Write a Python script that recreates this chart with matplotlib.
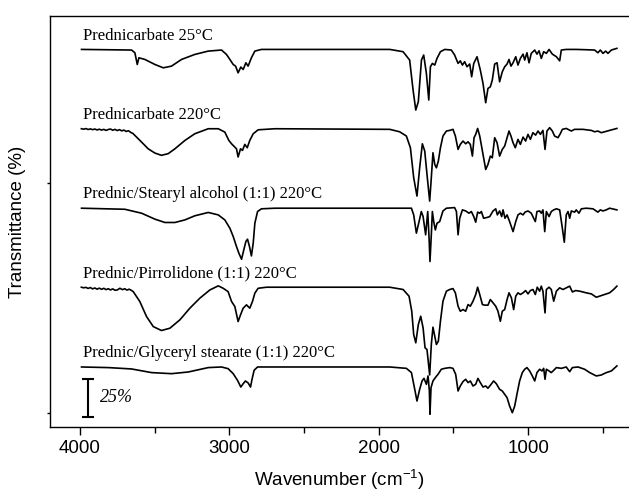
import numpy as np
import matplotlib.pyplot as plt

plt.rcParams['font.family'] = 'Liberation Sans'
plt.rcParams['mathtext.default'] = 'regular'

# Prednicarbate 25°C
wn_pc25 = [3989, 3654, 3632, 3616, 3605, 3565, 3498, 3442, 3387, 3320, 3231, 3141, 3052,
           3019, 2996, 2974, 2958, 2941, 2923, 2907, 2889, 2874, 2852, 2829, 2785,
           1926, 1837, 1793, 1770, 1752, 1735, 1714, 1699, 1681, 1665, 1654, 1641, 1625,
           1610, 1587, 1558, 1514, 1492, 1469, 1454, 1440, 1425, 1409, 1391, 1378, 1364,
           1342, 1320, 1302, 1284, 1269, 1253, 1240, 1224, 1208, 1191, 1173, 1157, 1141,
           1128, 1115, 1101, 1083, 1068, 1052, 1034, 1023, 1008, 994, 979, 956, 941, 927,
           912, 896, 878, 860, 838, 811, 789, 778, 745, 678, 611, 555, 533, 517, 499, 481,
           466, 443, 406]
t_pc25 = [100, 99.6, 97.8, 90.1, 94.5, 93.4, 90.1, 87.9, 89.0, 93.4, 96.7, 98.9, 99.6,
          96.7, 93.4, 90.1, 89.0, 84.6, 88.4, 86.8, 91.2, 89.0, 94.5, 98.9, 100,
          100, 98.5, 93.0, 73.2, 60.1, 65.6, 93.0, 96.3, 84.2, 66.7, 88.6, 90.8, 89.7,
          94.1, 98.5, 100, 99.6, 96.3, 90.8, 92.5, 89.7, 91.9, 88.6, 90.4, 82.0, 90.8,
          95.2, 86.4, 77.6, 64.9, 74.3, 75.4, 79.8, 90.4, 91.2, 78.7, 85.3, 88.6, 90.4,
          93.4, 89.0, 91.2, 95.2, 89.7, 94.1, 96.9, 93.0, 97.8, 91.2, 97.4, 99.6, 96.9, 99.1,
          94.1, 98.5, 97.4, 100, 96.9, 95.2, 92.5, 99.6, 100, 100, 99.8, 99.6, 97.8, 99.6, 97.4,
          98.9, 97.4, 99.6, 100.7]

# Prednicarbate 220°C
wn_pc220 = [3990, 3975, 3960, 3945, 3930, 3915, 3900, 3885, 3870, 3855, 3840, 3825, 3810,
            3795, 3780, 3765, 3750, 3735, 3720, 3705, 3690, 3675, 3660, 3645, 3632, 3587,
            3543, 3498, 3454, 3409, 3364, 3297, 3231, 3141, 3074, 3030, 3003, 2985, 2968,
            2952, 2941, 2925, 2912, 2896, 2880, 2863, 2840, 2807, 2695,
            1926, 1860, 1815, 1788, 1766, 1744, 1726, 1708, 1692, 1677, 1659, 1648, 1637,
            1625, 1614, 1601, 1587, 1570, 1547, 1525, 1503, 1487, 1469, 1454, 1436, 1418,
            1402, 1387, 1373, 1362, 1351, 1338, 1324, 1306, 1284, 1269, 1253, 1240, 1224,
            1208, 1191, 1173, 1157, 1141, 1128, 1115, 1101, 1086, 1068, 1052, 1034, 1017,
            1001, 985, 968, 950, 934, 918, 901, 887, 874, 856, 838, 823, 800, 785, 771, 745,
            711, 689, 633, 577, 555, 533, 511, 488, 455, 406]
t_pc220 = [100, 99.7, 100.1, 99.5, 99.9, 99.4, 99.8, 99.2, 99.7, 99.1, 99.6, 98.9, 99.5,
           99.8, 99.0, 99.6, 98.8, 99.4, 98.6, 99.1, 98.2, 98.7, 97.6, 96.9, 95.6, 91.2,
           86.8, 84.0, 82.5, 83.6, 86.8, 92.3, 96.7, 100, 100, 97.8, 92.3, 90.1, 88.4,
           86.8, 81.4, 86.8, 85.7, 89.7, 87.5, 92.3, 96.7, 99.3, 100,
           99.6, 98.0, 95.2, 87.5, 67.8, 55.7, 74.3, 90.1, 85.3, 70.0, 52.4, 67.8, 84.2,
           76.5, 74.3, 78.7, 87.5, 95.2, 98.5, 98.9, 99.6, 95.2, 86.4, 89.7, 91.9, 90.1,
           91.4, 89.7, 82.0, 94.1, 96.3, 100.2, 95.2, 85.3, 73.2, 76.5, 82.0, 80.9, 94.1,
           90.8, 82.0, 86.4, 88.6, 94.1, 98.5, 95.2, 90.8, 87.5, 93.0, 89.7, 94.5, 91.9,
           96.3, 93.0, 97.4, 95.8, 98.5, 96.3, 98.9, 86.4, 98.5, 100.7, 98.5, 95.2, 94.1, 96.7, 99.6, 100.2,
           98.5, 99.6, 99.6, 98.9, 98.0, 98.5, 97.4, 98.0, 98.9, 100.2]

# Prednic/Stearyl alcohol (1:1) 220°C
wn_sa = [3989, 3699, 3587, 3498, 3431, 3364, 3297, 3231, 3141, 3074, 3030, 2996, 2974,
         2952, 2936, 2918, 2903, 2889, 2878, 2865, 2852, 2840, 2829, 2811, 2785, 2695,
         1926, 1781, 1766, 1748, 1730, 1715, 1703, 1686, 1672, 1663, 1657, 1648, 1641,
         1632, 1621, 1610, 1592, 1570, 1547, 1492, 1480, 1469, 1458, 1440, 1418, 1396,
         1380, 1364, 1351, 1338, 1324, 1313, 1298, 1275, 1257, 1235, 1217, 1206, 1191,
         1177, 1168, 1155, 1141, 1124, 1101, 1083, 1068, 1052, 1034, 1021, 1001, 979, 963,
         952, 941, 923, 912, 901, 889, 878, 860, 845, 829, 811, 789, 771, 758, 745, 733,
         722, 711, 689, 678, 660, 644, 611, 566, 533, 517, 499, 477, 455, 406]
t_sa = [100, 99.3, 96.7, 92.8, 90.6, 90.6, 92.3, 95.0, 97.2, 95.6, 92.3, 86.8, 81.4,
        74.8, 70.4, 66.4, 72.6, 78.1, 79.6, 74.8, 68.6, 77.0, 90.1, 97.8, 99.6, 100,
        100, 100, 95.6, 83.6, 91.2, 97.8, 94.5, 82.5, 97.8, 80.3, 64.9, 82.5, 97.8,
        91.2, 85.7, 90.1, 91.2, 98.2, 100, 100.4, 97.8, 82.5, 93.4, 98.9, 98.2, 96.7,
        97.8, 94.5, 90.8, 97.4, 96.7, 97.8, 93.4, 93.9, 94.5, 98.2, 99.6, 95.6, 98.2,
        94.5, 98.9, 93.4, 95.6, 91.2, 84.6, 91.2, 95.6, 96.7, 95.6, 97.4, 98.2, 96.7, 93.4,
        91.2, 97.8, 98.2, 96.7, 98.9, 84.6, 97.8, 94.5, 97.8, 98.9, 99.6, 98.9, 86.8, 77.6, 95.6, 97.8,
        93.4, 98.2, 97.4, 98.9, 96.7, 99.6, 100, 99.6, 97.4, 98.9, 98.2, 98.9, 100, 98.9]

# Prednic/Pirrolidone (1:1) 220°C
wn_pir = [3990, 3975, 3960, 3945, 3930, 3915, 3900, 3885, 3870, 3855, 3840, 3825, 3810,
          3795, 3780, 3765, 3750, 3732, 3715, 3700, 3685, 3670, 3655, 3643, 3599, 3554,
          3509, 3454, 3398, 3331, 3264, 3197, 3130, 3074, 3041, 3008, 2985, 2963, 2941,
          2925, 2907, 2885, 2863, 2845, 2829, 2807, 2751,
          1926, 1837, 1797, 1779, 1766, 1752, 1735, 1719, 1703, 1690, 1677, 1659, 1648,
          1637, 1625, 1614, 1601, 1587, 1570, 1547, 1525, 1503, 1487, 1469, 1454, 1436,
          1418, 1402, 1387, 1369, 1351, 1338, 1324, 1306, 1291, 1269, 1253, 1235, 1217,
          1202, 1186, 1173, 1157, 1141, 1128, 1112, 1097, 1083, 1068, 1052, 1034, 1017,
          1001, 985, 968, 952, 939, 923, 912, 901, 887, 878, 860, 845, 829, 811, 789, 767,
          745, 722, 704, 682, 655, 611, 577, 544, 522, 488, 455, 428, 406]
t_pir = [100, 99.6, 99.9, 99.2, 99.8, 98.9, 99.5, 98.7, 99.4, 98.6, 99.3, 98.4, 99.0,
         98.2, 98.9, 98.0, 98.2, 99.3, 98.4, 99.0, 98.1, 98.7, 97.9, 97.1, 90.6, 80.7,
         74.1, 71.5, 73.0, 78.5, 86.2, 92.8, 98.2, 100.9, 99.3, 97.1, 90.6, 87.3, 77.4,
         81.8, 86.2, 88.4, 86.2, 90.6, 96.1, 99.3, 100,
         100, 98.5, 94.1, 84.2, 68.9, 63.4, 75.4, 80.9, 73.2, 60.1, 59.0, 42.3, 62.3,
         73.7, 67.8, 62.3, 64.5, 77.6, 90.8, 97.4, 98.5, 99.1, 96.3, 87.5, 84.2, 85.3,
         84.2, 88.6, 87.5, 90.8, 95.2, 100, 95.2, 88.6, 88.2, 88.2, 91.9, 89.7, 87.5,
         84.2, 77.6, 84.2, 85.3, 91.9, 96.3, 93.0, 85.3, 94.1, 96.3, 95.2, 96.3, 97.8,
         95.6, 97.8, 98.5, 95.2, 100, 97.4, 100.7, 97.4, 83.1, 98.5, 100, 98.5, 90.8, 97.4, 99.6, 98.5,
         99.6, 100.7, 96.9, 97.8, 97.4, 96.3, 95.6, 93.4, 94.1, 95.2, 96.3, 98.5, 100.7]

# Prednic/Glyceryl stearate (1:1) 220°C
wn_gs = [3989, 3810, 3654, 3520, 3387, 3275, 3141, 3052, 3008, 2974, 2945, 2923, 2907,
         2892, 2874, 2858, 2847, 2834, 2811, 2695,
         1926, 1815, 1781, 1759, 1744, 1726, 1710, 1697, 1681, 1670, 1661, 1657, 1650,
         1637, 1621, 1603, 1581, 1558, 1525, 1503, 1485, 1469, 1454, 1436, 1418, 1402,
         1387, 1369, 1351, 1336, 1320, 1302, 1284, 1269, 1251, 1231, 1213, 1191, 1173,
         1157, 1141, 1124, 1106, 1090, 1075, 1057, 1039, 1023, 1008, 990, 972, 956, 941,
         923, 907, 896, 887, 878, 860, 845, 829, 811, 778, 745, 722, 704, 666, 622, 588,
         544, 511, 477, 443, 406]
t_gs = [100, 99.6, 98.7, 96.3, 95.6, 96.7, 99.6, 100, 98.9, 95.6, 91.2, 86.8, 89.0,
        90.8, 89.5, 86.8, 92.3, 97.8, 100, 100,
        100, 99.1, 96.3, 85.3, 77.6, 85.3, 90.8, 92.5, 88.6, 94.1, 84.2, 68.9, 86.4,
        90.8, 93.0, 95.2, 98.5, 99.1, 99.6, 99.1, 95.2, 84.2, 87.5, 90.4, 91.9, 89.7,
        90.8, 87.5, 88.6, 92.5, 89.7, 86.8, 87.5, 86.0, 88.2, 90.8, 89.0, 85.3, 84.2,
        82.0, 79.8, 74.3, 69.9, 74.3, 82.0, 90.8, 96.3, 98.5, 99.6, 97.4, 94.1, 90.8, 96.3,
        98.5, 97.4, 99.1, 91.9, 98.5, 97.4, 96.3, 97.8, 99.6, 99.1, 100, 96.9, 99.6, 100, 98.5, 96.3,
        94.1, 94.7, 96.3, 97.4, 100.7]

spectra = [(wn_pc25, t_pc25), (wn_pc220, t_pc220), (wn_sa, t_sa), (wn_pir, t_pir), (wn_gs, t_gs)]
labels = ['Prednicarbate 25\u00b0C', 'Prednicarbate 220\u00b0C',
          'Prednic/Stearyl alcohol (1:1) 220\u00b0C', 'Prednic/Pirrolidone (1:1) 220\u00b0C',
          'Prednic/Glyceryl stearate (1:1) 220\u00b0C']
offsets = [148.5, 96.3, 44.0, -8.0, -60.5]

fig = plt.figure(figsize=(6.29, 4.94), dpi=100)
ax = fig.add_axes([50 / 629, 67 / 494, 579 / 629, 411 / 494])

for (wn, t), lab, off in zip(spectra, labels, offsets):
    ax.plot(wn, np.array(t) + off, color='black', lw=1.2)
    ax.text(3980, 100 + off + 6.5, lab, family='Liberation Serif', fontsize=12,
            va='baseline', ha='left')

# 25 % scale bar
ax.errorbar([3946], [19.1], yerr=[12.5], color='black', lw=1.5, capsize=4.5, capthick=1.5)
ax.text(3868, 19.1, '25%', family='Liberation Serif', style='italic', fontsize=13,
        va='center', ha='left')

ax.set_xlim(4200, 325)
ax.set_ylim(0, 270.5)
ax.set_xticks([4000, 3000, 2000, 1000])
ax.set_xticks([3500, 2500, 1500, 500], minor=True)
ax.set_yticks([9.2, 160.5])
ax.set_yticklabels([])
ax.tick_params(axis='x', which='major', direction='out', length=6, width=1, labelsize=13.5)
ax.tick_params(axis='x', which='minor', direction='out', length=4, width=1)
ax.tick_params(axis='y', direction='out', length=2, width=1)
ax.spines['right'].set_visible(False)
for s in ['left', 'top', 'bottom']:
    ax.spines[s].set_linewidth(1.0)

ax.set_xlabel('Wavenumber (cm$^{-1}$)', fontsize=13.5, labelpad=8)
ax.set_ylabel('Transmittance (%)', fontsize=13.5, labelpad=12)

fig.savefig('out.png', dpi=100)
